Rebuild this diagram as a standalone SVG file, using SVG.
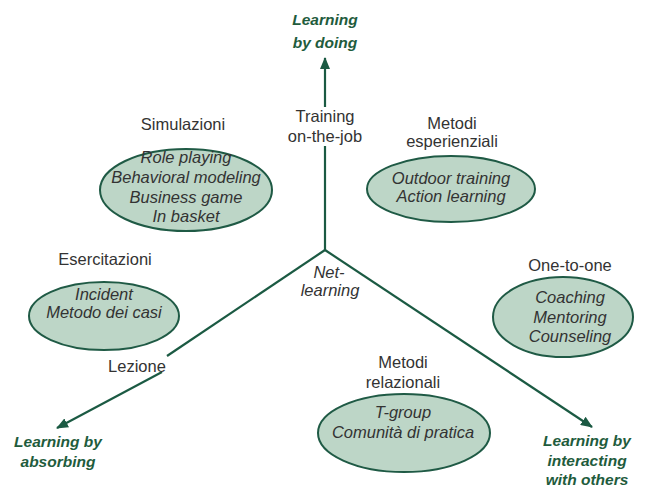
<svg xmlns="http://www.w3.org/2000/svg" width="662" height="489" viewBox="0 0 662 489">
<defs>
<style>
text{font-family:"Liberation Sans",Arial,sans-serif;font-size:16.5px;fill:#333;text-anchor:middle}
.it{font-style:italic}
.pole{font-weight:bold;font-style:italic;font-size:15.5px;fill:#1f5c3d}
.ell{fill:#bdd6c7;stroke:#1f5a45;stroke-width:2}
.ax{stroke:#1b5a43;stroke-width:2.2;fill:none}
</style>
<marker id="ah" viewBox="0 0 12 10" refX="11" refY="5" markerWidth="12" markerHeight="10" markerUnits="userSpaceOnUse" orient="auto">
<path d="M0,0 L12,5 L0,10 Z" fill="#1b5a43"/>
</marker>
</defs>
<rect width="662" height="489" fill="#fff"/>
<g id="connectors">
<line class="ax" x1="325" y1="250" x2="325" y2="146"/>
<line class="ax" x1="325" y1="107" x2="325" y2="58" marker-end="url(#ah)"/>
<line class="ax" x1="325" y1="250" x2="167" y2="356"/>
<line class="ax" x1="162" y1="372" x2="57" y2="428" marker-end="url(#ah)"/>
<line class="ax" x1="325" y1="250" x2="592" y2="427" marker-end="url(#ah)"/>
</g>
<g id="pole-doing">
<text class="pole" x="325" y="25">Learning</text>
<text class="pole" x="325" y="48">by doing</text>
</g>
<g id="pole-absorbing">
<text class="pole" x="58" y="447">Learning by</text>
<text class="pole" x="58" y="467">absorbing</text>
</g>
<g id="pole-interacting">
<text class="pole" x="587" y="446">Learning by</text>
<text class="pole" x="587" y="466">interacting</text>
<text class="pole" x="587" y="485">with others</text>
</g>
<g id="training">
<text x="325" y="122">Training</text>
<text x="325" y="142">on-the-job</text>
</g>
<g id="netlearning">
<text class="it" x="329" y="278">Net-</text>
<text class="it" x="330" y="296">learning</text>
</g>
<g id="lezione">
<text x="137" y="372">Lezione</text>
</g>
<g id="simulazioni">
<text x="183" y="130">Simulazioni</text>
<ellipse class="ell" cx="186" cy="190" rx="86" ry="41"/>
<text class="it" x="186" y="163">Role playing</text>
<text class="it" x="186" y="183">Behavioral modeling</text>
<text class="it" x="186" y="203">Business game</text>
<text class="it" x="186" y="222">In basket</text>
</g>
<g id="esperienziali">
<text x="452" y="129">Metodi</text>
<text x="452" y="147">esperienziali</text>
<ellipse class="ell" cx="451" cy="189" rx="84" ry="33"/>
<text class="it" x="451" y="184">Outdoor training</text>
<text class="it" x="451" y="202">Action learning</text>
</g>
<g id="esercitazioni">
<text x="105" y="265">Esercitazioni</text>
<ellipse class="ell" cx="104" cy="316" rx="75" ry="34"/>
<text class="it" x="104" y="300">Incident</text>
<text class="it" x="104" y="318">Metodo dei casi</text>
</g>
<g id="onetoone">
<text x="570" y="271">One-to-one</text>
<ellipse class="ell" cx="563" cy="317" rx="70" ry="40"/>
<text class="it" x="570" y="303">Coaching</text>
<text class="it" x="570" y="323">Mentoring</text>
<text class="it" x="570" y="342">Counseling</text>
</g>
<g id="relazionali">
<text x="403" y="368">Metodi</text>
<text x="403" y="388">relazionali</text>
<ellipse class="ell" cx="404" cy="433" rx="86" ry="39"/>
<text class="it" x="403" y="418">T-group</text>
<text class="it" x="403" y="438">Comunità di pratica</text>
</g>
</svg>
